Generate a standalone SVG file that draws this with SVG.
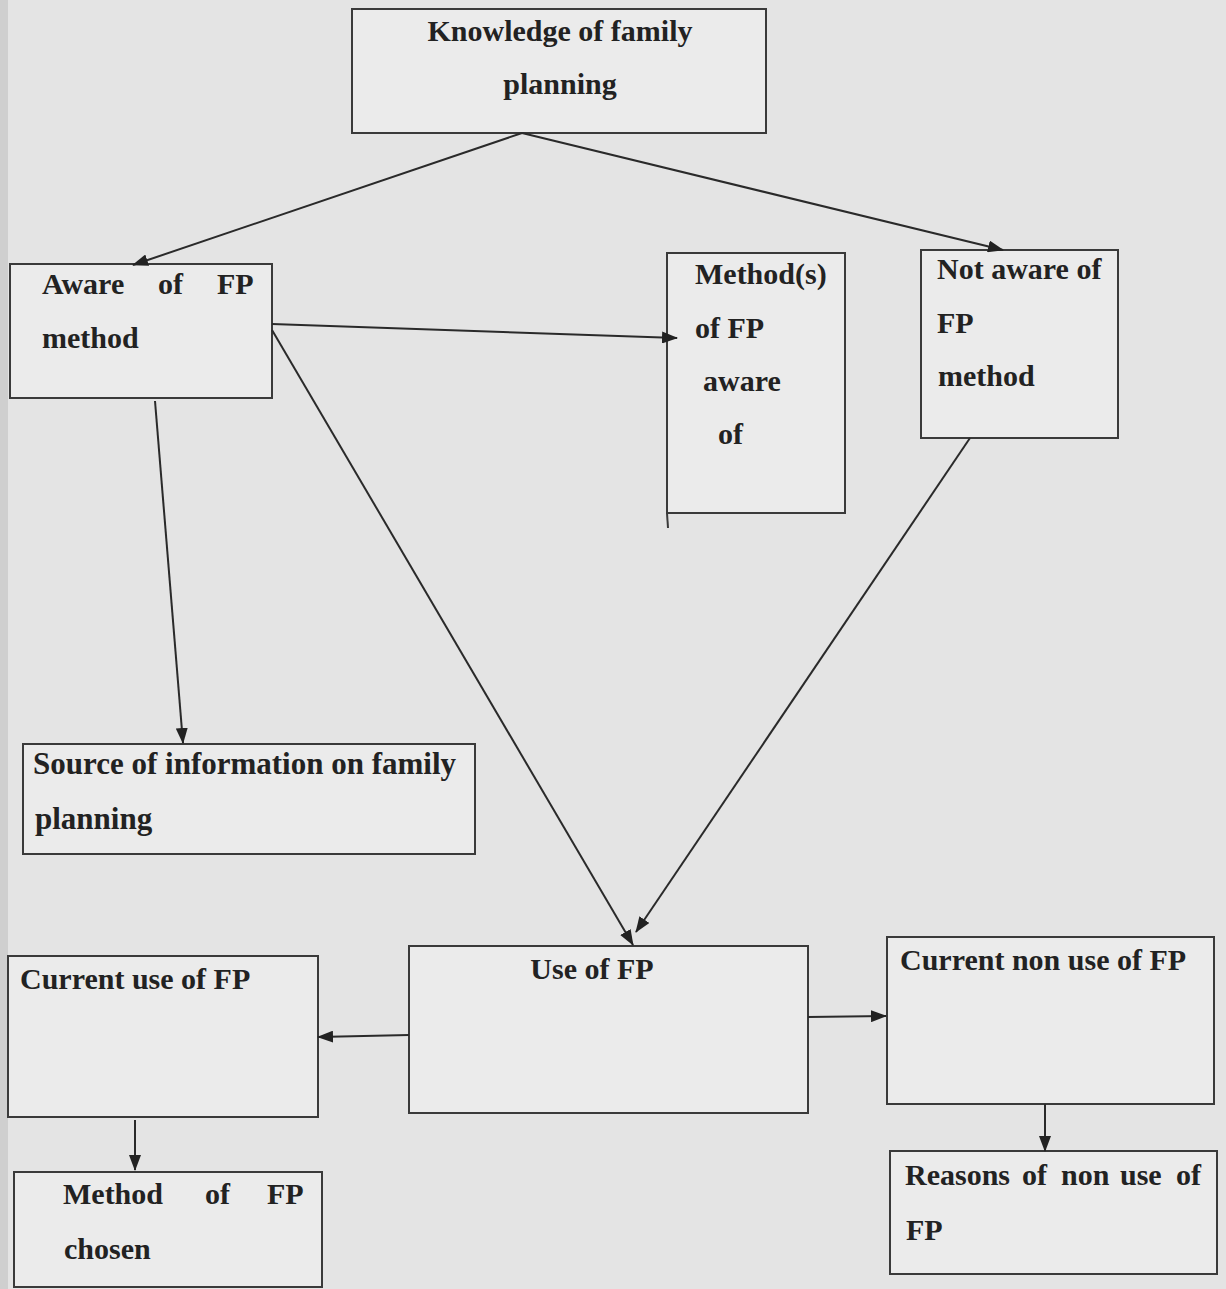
<svg xmlns="http://www.w3.org/2000/svg" width="1226" height="1289" viewBox="0 0 1226 1289">
<style>
.box{fill:#ebebeb;stroke:#3a3a3a;stroke-width:2}
.t{font-family:'Liberation Serif','DejaVu Serif',serif;font-weight:bold;font-size:30px;fill:#222}
.c{fill:none;stroke:#2a2a2a;stroke-width:2}
</style>
<defs>
<marker id="ah" markerWidth="16" markerHeight="12" refX="15" refY="6" orient="auto" markerUnits="userSpaceOnUse">
<path d="M0,0 L16,6 L0,12 Z" fill="#222"/>
</marker>
</defs>
<rect width="1226" height="1289" fill="#e4e4e4"/>
<rect width="8" height="1289" fill="#cfcfcf"/>
<g id="n-knowledge"><rect class="box" x="352" y="9" width="414" height="124"/>
<text class="t" x="560" y="41" text-anchor="middle">Knowledge of family</text>
<text class="t" x="560" y="94" text-anchor="middle">planning</text></g>
<g id="n-aware"><rect class="box" x="10" y="264" width="262" height="134"/>
<text class="t" x="42" y="294">Aware</text><text class="t" x="158" y="294">of</text><text class="t" x="217" y="294">FP</text>
<text class="t" x="42" y="348">method</text></g>
<g id="n-methods"><rect class="box" x="667" y="253" width="178" height="260"/>
<line x1="667" y1="513" x2="668" y2="528" stroke="#3a3a3a" stroke-width="2"/>
<text class="t" x="695" y="284">Method(s)</text>
<text class="t" x="695" y="338">of FP</text>
<text class="t" x="703" y="391">aware</text>
<text class="t" x="718" y="444">of</text></g>
<g id="n-notaware"><rect class="box" x="921" y="250" width="197" height="188"/>
<text class="t" x="937" y="279">Not aware of</text>
<text class="t" x="937" y="333">FP</text>
<text class="t" x="938" y="386">method</text></g>
<g id="n-source"><rect class="box" x="23" y="744" width="452" height="110"/>
<text class="t" x="33" y="774" style="font-size:31px">Source of information on family</text>
<text class="t" x="35" y="829" style="font-size:31px">planning</text></g>
<g id="n-use"><rect class="box" x="409" y="946" width="399" height="167"/>
<text class="t" x="592" y="979" text-anchor="middle">Use of FP</text></g>
<g id="n-current"><rect class="box" x="8" y="956" width="310" height="161"/>
<text class="t" x="20" y="989">Current use of FP</text></g>
<g id="n-nonuse"><rect class="box" x="887" y="937" width="327" height="167"/>
<text class="t" x="900" y="970">Current non use of FP</text></g>
<g id="n-reasons"><rect class="box" x="890" y="1151" width="327" height="123"/>
<text class="t" x="905" y="1185">Reasons</text><text class="t" x="1022" y="1185">of</text><text class="t" x="1061" y="1185">non</text><text class="t" x="1120" y="1185">use</text><text class="t" x="1176" y="1185">of</text>
<text class="t" x="906" y="1240">FP</text></g>
<g id="n-chosen"><rect class="box" x="14" y="1172" width="308" height="115"/>
<text class="t" x="63" y="1204">Method</text><text class="t" x="205" y="1204">of</text><text class="t" x="267" y="1204">FP</text>
<text class="t" x="64" y="1259">chosen</text></g>
<g id="connectors">
<line class="c" x1="522" y1="133" x2="133" y2="265" marker-end="url(#ah)"/>
<line class="c" x1="522" y1="133" x2="1003" y2="250" marker-end="url(#ah)"/>
<line class="c" x1="272" y1="324" x2="677" y2="338" marker-end="url(#ah)"/>
<line class="c" x1="272" y1="330" x2="633" y2="945" marker-end="url(#ah)"/>
<line class="c" x1="970" y1="438" x2="636" y2="932" marker-end="url(#ah)"/>
<line class="c" x1="155" y1="401" x2="183" y2="743" marker-end="url(#ah)"/>
<line class="c" x1="409" y1="1035" x2="318" y2="1037" marker-end="url(#ah)"/>
<line class="c" x1="808" y1="1017" x2="886" y2="1016" marker-end="url(#ah)"/>
<line class="c" x1="135" y1="1120" x2="135" y2="1170" marker-end="url(#ah)"/>
<line class="c" x1="1045" y1="1104" x2="1045" y2="1151" marker-end="url(#ah)"/>
</g>
</svg>
